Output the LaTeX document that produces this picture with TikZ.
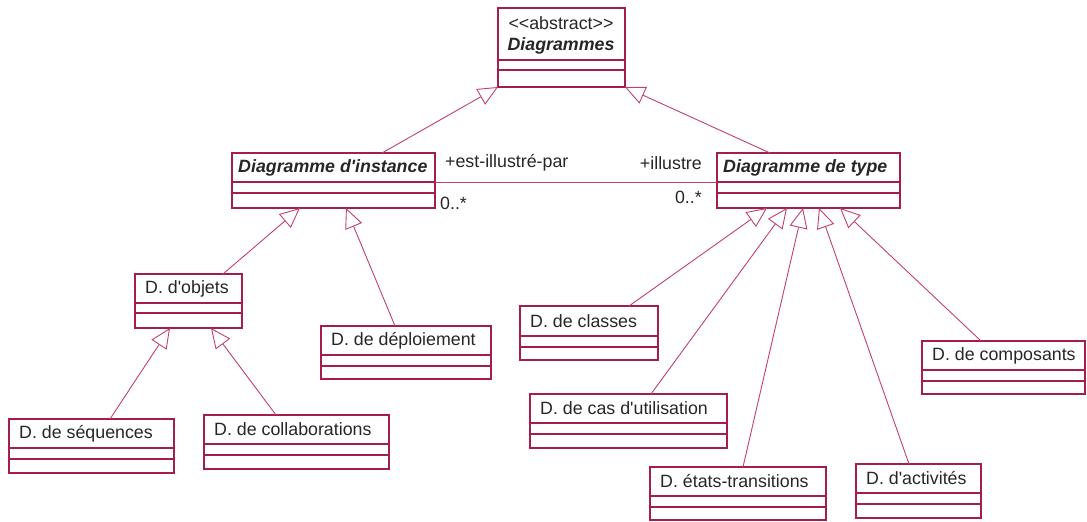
\documentclass[tikz,border=0pt]{standalone}
\usepackage{fontspec}
\newfontfamily\umlf{Liberation Sans}
\usetikzlibrary{arrows.meta,calc}
\definecolor{umlc}{RGB}{165,30,75}
\definecolor{linec}{RGB}{195,65,105}
\tikzset{
  cbox/.style={draw=umlc, line width=1.1pt, rectangle, anchor=north west, inner sep=0pt, outer sep=0pt},
  ctext/.style={anchor=west, inner sep=0pt, text=black!85},
  lbl/.style={inner sep=0pt, text=black!85},
  gen/.style={draw=linec, line width=0.9pt, -{Triangle[length=20pt,width=18pt,fill=white,line width=0.9pt]}},
  assoc/.style={draw=linec, line width=0.9pt}
}
\newcommand\umlclass[8]{%
  \node[cbox, minimum width={#4-#2}, minimum height={#5-#3}] (#1) at (#2,#3) {};
  \node[cbox, minimum width={#4-#2}, minimum height={#6-#5}] (#1-a) at (#1.south west) {};
  \node[cbox, minimum width={#4-#2}, minimum height={#7-#6}] (#1-o) at (#1-a.south west) {};
  \node[ctext] (#1-t) at ($(#1.west)+(10,0)$) {#8};
}
\begin{document}
\begin{tikzpicture}[x=1pt, y=-1pt, font=\umlf\fontsize{17.8}{21}\selectfont]
\useasboundingbox (0,0) rectangle (1087,522);
% abstract root
\node[cbox, minimum width=127, minimum height=52] (dia) at (498,8) {};
\node[cbox, minimum width=127, minimum height=10] (dia-a) at (dia.south west) {};
\node[cbox, minimum width=127, minimum height=17] (dia-o) at (dia-a.south west) {};
\node[lbl] (dia-s) at (561,23) {<<abstract>>};
\node[lbl] (dia-t) at (561,46) {\bfseries\itshape Diagrammes};
% classes
\node[cbox, minimum width=203, minimum height=29] (inst) at (232,153) {};
\node[cbox, minimum width=203, minimum height=11] (inst-a) at (inst.south west) {};
\node[cbox, minimum width=203, minimum height=15] (inst-o) at (inst-a.south west) {};
\node[ctext] (inst-t) at ($(inst.west)+(6,0)$) {\bfseries\itshape Diagramme d'instance};
\node[cbox, minimum width=183, minimum height=29] (type) at (717,153) {};
\node[cbox, minimum width=183, minimum height=11] (type-a) at (type.south west) {};
\node[cbox, minimum width=183, minimum height=15] (type-o) at (type-a.south west) {};
\node[ctext] (type-t) at ($(type.west)+(6,0)$) {\bfseries\itshape Diagramme de type};
\umlclass{obj}{135}{274}{242}{303}{313}{328}{D. d'objets}
\umlclass{dep}{321}{326}{491}{355}{366}{379}{D. de déploiement}
\umlclass{seq}{9}{419}{174}{448}{459}{473}{D. de séquences}
\umlclass{col}{204}{415}{389}{444}{455}{469}{D. de collaborations}
\umlclass{cls}{520}{306}{658}{336}{347}{360}{D. de classes}
\umlclass{cas}{530}{394}{727}{423}{434}{448}{D. de cas d'utilisation}
\umlclass{eta}{650}{467}{826}{496}{507}{520}{D. états-transitions}
\umlclass{act}{856}{464}{981}{493}{504}{518}{D. d'activités}
\umlclass{comp}{922}{341}{1085}{370}{381}{394}{D. de composants}
% generalizations
\draw[gen] ($(inst.north west)+(150,0)$) -- (dia-o.south west);
\draw[gen] ($(type.north west)+(53,0)$) -- (dia-o.south east);
\draw[gen] ($(obj.north west)+(88,0)$) -- ($(inst-o.south west)+(68,0)$);
\draw[gen] ($(dep.north west)+(74,0)$) -- ($(inst-o.south west)+(114,0)$);
\draw[gen] ($(seq.north west)+(101,0)$) -- ($(obj-o.south west)+(35,0)$);
\draw[gen] ($(col.north west)+(72,0)$) -- ($(obj-o.south west)+(76,0)$);
\draw[gen] ($(cls.north west)+(109,0)$) -- ($(type-o.south west)+(50,0)$);
\draw[gen] ($(cas.north west)+(121,0)$) -- ($(type-o.south west)+(70,0)$);
\draw[gen] ($(eta.north west)+(93,0)$) -- ($(type-o.south west)+(86,0)$);
\draw[gen] ($(act.north west)+(53,0)$) -- ($(type-o.south west)+(102,0)$);
\draw[gen] ($(comp.north west)+(59,0)$) -- ($(type-o.south west)+(123,0)$);
% association
\draw[assoc] (inst.south east) -- (type.south west);
\node[lbl, anchor=west] (r1) at (445,163) {+est-illustré-par};
\node[lbl, anchor=east] (r2) at (702,163) {+illustre};
\node[lbl, anchor=west] (m1) at (440,203) {0..*};
\node[lbl, anchor=east] (m2) at (702,197) {0..*};
\end{tikzpicture}
\end{document}
